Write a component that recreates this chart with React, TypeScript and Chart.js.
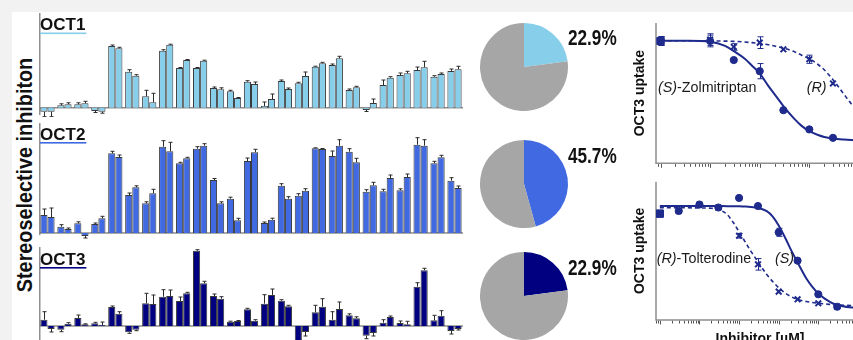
import React, { useEffect, useRef } from 'react';
import { Chart, registerables } from 'chart.js';

Chart.register(...registerables);

const SANS = '"Liberation Sans", Arial, Helvetica, sans-serif';
const AXIS_GREY = '#8f8f8f';
const INK = '#111111';
const CURVE_BLUE = '#1f2b8c';
const PIE_GREY = '#a6a6a6';

// 25 racemic drug pairs; each pair is drawn as (first enantiomer, second enantiomer)
const compounds = ['1', '2', '3', '4', '5', '6', '7', '8', '9', '10', '11', '12', '13', '14', '15', '16', '17', '18', '19', '20', '21', '22', '23', '24', '25'];

// OCT1 stereoselective inhibition
const oct1First = [-4, 2.4, 3.4, -3.3, 61.7, 36, 11.4, 57, 39.7, 39.7, 19.7, 16.4, 26, 1.7, 26.7, 24.4, 41, 42.7, 17.7, -2.3, 22.7, 32.7, 37.7, 31, 36.7];
const oct1Second = [-4, 3.4, 4.4, -4, 59.4, 32, 5.4, 63, 47.7, 47, 18.4, 9.7, 23.7, 8.7, 18.7, 31.7, 44.4, 49.4, 20.4, 4.7, 30, 34.4, 40.4, 33.7, 38.4];
const oct1FirstErr = [5, 1.5, 1.5, 1.5, 1, 2, 6, 1, 0.5, 0.5, 1, 1, 1, 4, 1, 1, 0.5, 1, 1, 1.5, 5, 2, 3, 1, 2];
const oct1SecondErr = [5, 1.5, 2, 1.5, 1, 1, 9, 0.5, 0.5, 0.5, 1.5, 0.5, 2, 5, 1, 4, 1, 2, 1, 4, 1, 2, 6, 1, 3];

// OCT2 stereoselective inhibition
const oct2First = [18, 6.3, 9.7, 9, 79.7, 38, 29.7, 86.3, 69.7, 84.3, 53, 34.3, 72, 10, 47.3, 37.3, 84.7, 77, 81.3, 41.3, 41.7, 42.7, 88.3, 69.7, 52.3];
const oct2Second = [16, 4, -3, 14.7, 76, 45.7, 39.7, 81.7, 74.7, 87.3, 29.7, 12.7, 80.7, 13.3, 34.3, 42.3, 84, 87.3, 70.7, 47.7, 55, 56, 87.3, 75.7, 45];
const oct2FirstErr = [6, 2, 1.5, 1, 2, 2, 1.5, 6, 1, 2, 1.5, 1.5, 3, 1, 2, 2, 0.5, 5, 3, 2, 2, 1.5, 7, 2, 3];
const oct2SecondErr = [9, 1, 2, 2, 2, 1.5, 4, 9, 1, 2, 1.5, 2, 3, 1.5, 2, 2, 0.5, 6, 4, 3, 3, 3, 6, 2, 2];

// OCT3 stereoselective inhibition
const oct3First = [6.3, -3.7, 8, 2.7, 19, -6.3, 22.7, 29.3, 25, 75.3, 30, 4.3, 16.7, 22.3, 25.3, -18, 13.7, 6.3, 10.7, -9.7, 3.3, 3, 39.3, 5.7, -5];
const oct3Second = [-3, 2.3, 1.7, 1, 12.3, -3.7, 22, 30, 32.7, 42.7, 27.3, 5, 5.3, 31, 19.7, -6, 19.3, 17, 7.7, -7, 9, 1.7, 55.7, 10.3, -3];
const oct3FirstErr = [8, 2, 3, 1, 1, 1, 10, 7, 4, 1, 2, 0.5, 1, 9, 1, 2, 7, 8, 1.5, 3, 3, 2, 4, 5, 3];
const oct3SecondErr = [3, 1, 0.5, 3, 2, 1, 9, 6, 1, 2, 2, 0.5, 1, 6, 1, 4, 8, 7, 1.5, 3, 1, 3, 2, 5, 1];

// share of stereoselective pairs per transporter
const pieLabels = ['stereoselective', 'not stereoselective'];
const pieSelective = [22.9, 45.7, 22.9];
const pieRest = [77.1, 54.3, 77.1];

// OCT3 uptake vs zolmitriptan enantiomers
const zolmiConc = [0.1, 1, 3, 10, 30, 100, 300];
const zolmiS = [104.6, 104.6, 88.3, 78.8, 45.4, 29, 21.8];
const zolmiR = [104.6, 105.8, 99.5, 103.2, 97.5, 89, 68.3];
const zolmiSErr = [3.8, 5, 0, 6.5, 0, 0, 0];
const zolmiRErr = [3.8, 5, 2.8, 5, 0, 3.5, 0];
const zolmiFitConc = [0.1, 0.3, 1, 2, 3, 5, 7, 10, 15, 20, 30, 50, 70, 100, 150, 200, 300, 500, 700, 1000, 2000, 3000, 6000];
const zolmiSFit = [104.9, 104.8, 104, 100.5, 96, 89.5, 83.5, 77, 66, 59, 49, 38, 32, 27.5, 24.2, 22.5, 21.2, 20.3, 19.9, 19.6, 19.2, 19.1, 19];
const zolmiRFit = [104.8, 104.8, 104.7, 104.5, 104.3, 103.7, 103.2, 102.5, 101.4, 100.3, 98.5, 95.5, 92.5, 89.5, 84.5, 80, 71.5, 59, 51, 44, 33, 28.5, 24];

// OCT3 uptake vs tolterodine enantiomers
const tolterConc = [0.1, 0.3, 1, 3, 10, 30, 100, 300, 1000, 3000];
const tolterS = [92.3, 94.6, 100.2, 97.6, 105.9, 98.9, 76.1, 51.5, 22.3, 11.5];
const tolterR = [92.3, 94.6, 100.2, 97.6, 73.1, 48.3, 24.6, 18, 14.5, 11.5];
const tolterSErr = [0, 0, 0, 0, 0, 0, 3.5, 0, 0, 0];
const tolterRErr = [0, 0, 0, 0, 2, 5, 0, 0, 0, 0];
const tolterFitConc = [0.1, 0.3, 1, 2, 3, 5, 7, 10, 15, 20, 30, 50, 70, 100, 150, 200, 300, 500, 700, 1000, 2000, 3000, 10000, 80000];
const tolterSFit = [98.9, 98.9, 98.9, 98.9, 98.9, 98.8, 98.8, 98.7, 98.4, 98, 97.3, 94.5, 90, 82, 70.5, 61.5, 50, 36, 29, 23, 15.5, 13, 10.5, 10];
const tolterRFit = [97.4, 97.4, 97.2, 96.9, 96, 91.5, 85, 76.5, 66.5, 59.5, 50.5, 39.5, 33.5, 28, 23, 20.5, 17.8, 16, 15.2, 14.5, 13.5, 13, 12.5, 12];

type Panel = {
  title: string;
  fill: string;
  first: number[];
  second: number[];
  firstErr: number[];
  secondErr: number[];
  top: number;
  height: number;
  min: number;
  max: number;
  axisFrom: number;
  axisTo: number;
  titleBaseline: number;
  underlineY: number;
};

const panels: Panel[] = [
  { title: 'OCT1', fill: '#87CEEB', first: oct1First, second: oct1Second, firstErr: oct1FirstErr, secondErr: oct1SecondErr,
    top: 12, height: 105, min: -9.3, max: 95.7, axisFrom: 1, axisTo: 103, titleBaseline: 18, underlineY: 20.5 },
  { title: 'OCT2', fill: '#4169E1', first: oct2First, second: oct2Second, firstErr: oct2FirstErr, secondErr: oct2SecondErr,
    top: 120, height: 120, min: -7, max: 113, axisFrom: 3, axisTo: 115, titleBaseline: 20, underlineY: 22 },
  { title: 'OCT3', fill: '#000080', first: oct3First, second: oct3Second, firstErr: oct3FirstErr, secondErr: oct3SecondErr,
    top: 244, height: 96, min: -14, max: 82, axisFrom: 3, axisTo: 96, titleBaseline: 21, underlineY: 23 },
];

const pieColors = ['#87CEEB', '#4169E1', '#000080'];
const pieTops = [23, 140, 252];
const pieTextBaselines = [22, 23.3, 23];

function panelDecor(p: Panel) {
  return {
    id: 'panelDecor',
    beforeDatasetsDraw(chart: any) {
      const { ctx, chartArea, scales } = chart;
      const y0 = scales.y.getPixelForValue(0);
      ctx.save();
      ctx.strokeStyle = AXIS_GREY;
      ctx.lineWidth = 1.5;
      ctx.beginPath();
      ctx.moveTo(chartArea.left, y0);
      ctx.lineTo(chartArea.right, y0);
      ctx.moveTo(chartArea.left + 0.75, p.axisFrom);
      ctx.lineTo(chartArea.left + 0.75, p.axisTo);
      ctx.stroke();
      ctx.restore();
    },
    afterDatasetsDraw(chart: any) {
      const { ctx, chartArea, scales } = chart;
      ctx.save();
      ctx.strokeStyle = '#2b2b2b';
      ctx.lineWidth = 1;
      [p.firstErr, p.secondErr].forEach((errs, di) => {
        const meta = chart.getDatasetMeta(di);
        const vals = chart.data.datasets[di].data as number[];
        meta.data.forEach((bar: any, i: number) => {
          const v = vals[i];
          const dir = v < 0 ? -1 : 1;
          const yEnd = scales.y.getPixelForValue(v + dir * errs[i]);
          const x = Math.round(bar.x) + 0.5;
          ctx.beginPath();
          ctx.moveTo(x, bar.y);
          ctx.lineTo(x, yEnd);
          ctx.moveTo(x - 2, yEnd);
          ctx.lineTo(x + 2, yEnd);
          ctx.stroke();
        });
      });
      ctx.font = `bold 17px ${SANS}`;
      ctx.fillStyle = INK;
      ctx.textBaseline = 'alphabetic';
      ctx.fillText(p.title, chartArea.left + 1, p.titleBaseline);
      const w = ctx.measureText(p.title).width;
      ctx.fillStyle = p.fill;
      ctx.fillRect(chartArea.left + 1, p.underlineY, w + 1, 1.6);
      ctx.restore();
    },
  };
}

function barConfig(p: Panel): any {
  return {
    type: 'bar',
    data: {
      labels: compounds,
      datasets: [
        { label: 'first enantiomer', data: p.first, backgroundColor: p.fill, borderColor: '#3a3a3a', borderWidth: 1 },
        { label: 'second enantiomer', data: p.second, backgroundColor: p.fill, borderColor: '#3a3a3a', borderWidth: 1 },
      ],
    },
    options: {
      responsive: false,
      animation: false,
      layout: { padding: 0 },
      datasets: { bar: { categoryPercentage: 0.84, barPercentage: 1 } },
      plugins: { legend: { display: false }, tooltip: { enabled: false } },
      scales: {
        x: { display: false, offset: true },
        y: { display: false, min: p.min, max: p.max },
      },
    },
    plugins: [panelDecor(p)],
  };
}

function pieConfig(i: number): any {
  return {
    type: 'pie',
    data: {
      labels: pieLabels,
      datasets: [{
        data: [pieSelective[i], pieRest[i]],
        backgroundColor: [pieColors[i], PIE_GREY],
        borderWidth: 0,
        hoverOffset: 0,
      }],
    },
    options: {
      responsive: false,
      animation: false,
      layout: { padding: { right: 57 } },
      plugins: { legend: { display: false }, tooltip: { enabled: false } },
    },
    plugins: [{
      id: 'pieValue',
      afterDraw(chart: any) {
        const { ctx, chartArea } = chart;
        ctx.save();
        ctx.fillStyle = INK;
        ctx.font = `bold 22px ${SANS}`;
        ctx.textBaseline = 'alphabetic';
        ctx.translate(chartArea.right, pieTextBaselines[i]);
        ctx.scale(0.78, 1);
        ctx.fillText(`${pieSelective[i].toFixed(1)}%`, 0, 0);
        ctx.restore();
      },
    }],
  };
}

type Note = { parts: [string, boolean][]; dx: number; dy: number };

type DoseSpec = {
  xMin: number;
  xMax: number;
  padding: { left: number; top: number; bottom: number; right: number };
  conc: number[];
  s: number[];
  r: number[];
  sErr: number[];
  rErr: number[];
  fitConc: number[];
  sFit: number[];
  rFit: number[];
  notes: Note[];
  xTitle?: { text: string; x: number; y: number };
};

function drawParts(ctx: CanvasRenderingContext2D, parts: [string, boolean][], x: number, y: number) {
  let cx = x;
  parts.forEach(([text, italic]) => {
    ctx.font = `${italic ? 'italic ' : ''}14.3px ${SANS}`;
    ctx.fillText(text, cx, y);
    cx += ctx.measureText(text).width;
  });
}

function doseConfig(d: DoseSpec): any {
  const firstStyle = (rest: string) => d.conc.map((_, i) => (i === 0 ? 'rect' : rest));
  const firstRadius = (rest: number) => d.conc.map((_, i) => (i === 0 ? 5 : rest));
  return {
    type: 'line',
    data: {
      datasets: [
        {
          label: '(S)',
          data: d.conc.map((c, i) => ({ x: c, y: d.s[i] })),
          showLine: false,
          pointStyle: firstStyle('circle'),
          pointRadius: firstRadius(3.6),
          pointBackgroundColor: CURVE_BLUE,
          pointBorderColor: CURVE_BLUE,
          pointBorderWidth: 1,
          order: 0,
        },
        {
          label: '(R)',
          data: d.conc.map((c, i) => ({ x: c, y: d.r[i] })),
          showLine: false,
          pointStyle: firstStyle('crossRot'),
          pointRadius: firstRadius(4),
          pointBackgroundColor: CURVE_BLUE,
          pointBorderColor: CURVE_BLUE,
          pointBorderWidth: d.conc.map((_, i) => (i === 0 ? 1 : 2)),
          order: 0,
        },
        {
          label: '(S) fit',
          data: d.fitConc.map((c, i) => ({ x: c, y: d.sFit[i] })),
          borderColor: CURVE_BLUE,
          borderWidth: 2,
          pointRadius: 0,
          cubicInterpolationMode: 'monotone',
          fill: false,
          order: 1,
        },
        {
          label: '(R) fit',
          data: d.fitConc.map((c, i) => ({ x: c, y: d.rFit[i] })),
          borderColor: CURVE_BLUE,
          borderWidth: 1.6,
          borderDash: [4, 3],
          pointRadius: 0,
          cubicInterpolationMode: 'monotone',
          fill: false,
          order: 1,
        },
      ],
    },
    options: {
      responsive: false,
      animation: false,
      layout: { padding: d.padding },
      plugins: { legend: { display: false }, tooltip: { enabled: false } },
      scales: {
        x: { type: 'logarithmic', display: false, min: d.xMin, max: d.xMax },
        y: { type: 'linear', display: false, min: 0, max: 120 },
      },
    },
    plugins: [{
      id: 'doseDecor',
      beforeDatasetsDraw(chart: any) {
        const { ctx, chartArea, scales } = chart;
        const xs = scales.x;
        ctx.save();
        ctx.strokeStyle = AXIS_GREY;
        ctx.lineWidth = 1.5;
        ctx.beginPath();
        ctx.moveTo(chartArea.left, chartArea.top);
        ctx.lineTo(chartArea.left, chartArea.bottom);
        ctx.lineTo(chartArea.right, chartArea.bottom);
        ctx.stroke();
        // logarithmic tick marks under the x axis
        ctx.strokeStyle = '#555555';
        ctx.lineWidth = 1;
        ctx.beginPath();
        const e0 = Math.floor(Math.log10(xs.min));
        const e1 = Math.ceil(Math.log10(xs.max));
        for (let e = e0; e <= e1; e++) {
          for (let m = 1; m <= 9; m++) {
            const v = m * Math.pow(10, e);
            if (v < xs.min || v > xs.max) continue;
            const px = Math.round(xs.getPixelForValue(v)) + 0.5;
            ctx.moveTo(px, chartArea.bottom + 0.75);
            ctx.lineTo(px, chartArea.bottom + (m === 1 ? 4.5 : 3.5));
          }
        }
        ctx.stroke();
        ctx.restore();
      },
      afterDatasetsDraw(chart: any) {
        const { ctx, chartArea, scales } = chart;
        ctx.save();
        ctx.strokeStyle = CURVE_BLUE;
        ctx.lineWidth = 1;
        const bars = [
          { vals: d.s, errs: d.sErr },
          { vals: d.r, errs: d.rErr },
        ];
        bars.forEach(({ vals, errs }) => {
          d.conc.forEach((c, i) => {
            if (!errs[i]) return;
            const x = Math.round(scales.x.getPixelForValue(c)) + 0.5;
            const yHi = scales.y.getPixelForValue(vals[i] + errs[i]);
            const yLo = scales.y.getPixelForValue(vals[i] - errs[i]);
            ctx.beginPath();
            ctx.moveTo(x, yHi);
            ctx.lineTo(x, yLo);
            ctx.moveTo(x - 3, yHi);
            ctx.lineTo(x + 3, yHi);
            ctx.moveTo(x - 3, yLo);
            ctx.lineTo(x + 3, yLo);
            ctx.stroke();
          });
        });
        ctx.fillStyle = '#1a1a1a';
        ctx.textBaseline = 'alphabetic';
        d.notes.forEach((n) => drawParts(ctx, n.parts, chartArea.left + n.dx, chartArea.top + n.dy));
        // y axis title
        ctx.save();
        ctx.translate(10, (chartArea.top + chartArea.bottom) / 2);
        ctx.rotate(-Math.PI / 2);
        ctx.font = `bold 14px ${SANS}`;
        ctx.fillStyle = INK;
        ctx.textAlign = 'center';
        ctx.textBaseline = 'middle';
        ctx.fillText('OCT3 uptake', 0, 0);
        ctx.restore();
        if (d.xTitle) {
          ctx.font = `bold 14px ${SANS}`;
          ctx.fillStyle = INK;
          ctx.textAlign = 'center';
          ctx.textBaseline = 'top';
          ctx.fillText(d.xTitle.text, d.xTitle.x, d.xTitle.y);
        }
        ctx.restore();
      },
    }],
  };
}

const zolmiSpec: DoseSpec = {
  xMin: 0.081, xMax: 5100,
  padding: { left: 26, top: 11, bottom: 11.7, right: 0 },
  conc: zolmiConc, s: zolmiS, r: zolmiR, sErr: zolmiSErr, rErr: zolmiRErr,
  fitConc: zolmiFitConc, sFit: zolmiSFit, rFit: zolmiRFit,
  notes: [
    { parts: [['(S)', true], ['-Zolmitriptan', false]], dx: 2, dy: 68.5 },
    { parts: [['(R)', true]], dx: 150.7, dy: 68.5 },
  ],
};

const tolterSpec: DoseSpec = {
  xMin: 0.08, xMax: 81500,
  padding: { left: 26, top: 6.7, bottom: 20, right: 0 },
  conc: tolterConc, s: tolterS, r: tolterR, sErr: tolterSErr, rErr: tolterRErr,
  fitConc: tolterFitConc, sFit: tolterSFit, rFit: tolterRFit,
  notes: [
    { parts: [['(R)', true], ['-Tolterodine', false]], dx: 0.7, dy: 80.8 },
    { parts: [['(S)', true]], dx: 119, dy: 80.8 },
  ],
  xTitle: { text: 'Inhibitor [µM]', x: 130, y: 157 },
};

function ChartCanvas({ left, top, width, height, build }: { left: number; top: number; width: number; height: number; build: () => any }) {
  const ref = useRef<HTMLCanvasElement>(null);
  useEffect(() => {
    const chart = new Chart(ref.current as HTMLCanvasElement, build());
    return () => chart.destroy();
  }, []);
  return (
    <canvas
      ref={ref}
      width={width}
      height={height}
      style={{ position: 'absolute', left, top, width, height }}
    />
  );
}

export default function App() {
  return (
    <div style={{ position: 'fixed', left: 0, top: 0, width: 853, height: 340, background: '#f2f2f2', overflow: 'hidden' }}>
      <div style={{ position: 'absolute', left: 12, top: 12, right: 0, bottom: 0, background: '#ffffff' }} />
      <div
        style={{
          position: 'absolute',
          left: 25,
          top: 175,
          transform: 'translate(-50%, -50%) rotate(-90deg) scaleX(0.9)',
          font: `bold 22px ${SANS}`,
          lineHeight: '22px',
          whiteSpace: 'nowrap',
          color: INK,
        }}
      >
        Stereoselective inhibiton
      </div>
      {panels.map((p) => (
        <ChartCanvas key={p.title} left={39} top={p.top} width={424} height={p.height} build={() => barConfig(p)} />
      ))}
      {pieTops.map((t, i) => (
        <ChartCanvas key={`pie${i}`} left={480} top={t} width={145} height={88} build={() => pieConfig(i)} />
      ))}
      <ChartCanvas left={630} top={12} width={270} height={163} build={() => doseConfig(zolmiSpec)} />
      <ChartCanvas left={630} top={175} width={270} height={165} build={() => doseConfig(tolterSpec)} />
    </div>
  );
}
